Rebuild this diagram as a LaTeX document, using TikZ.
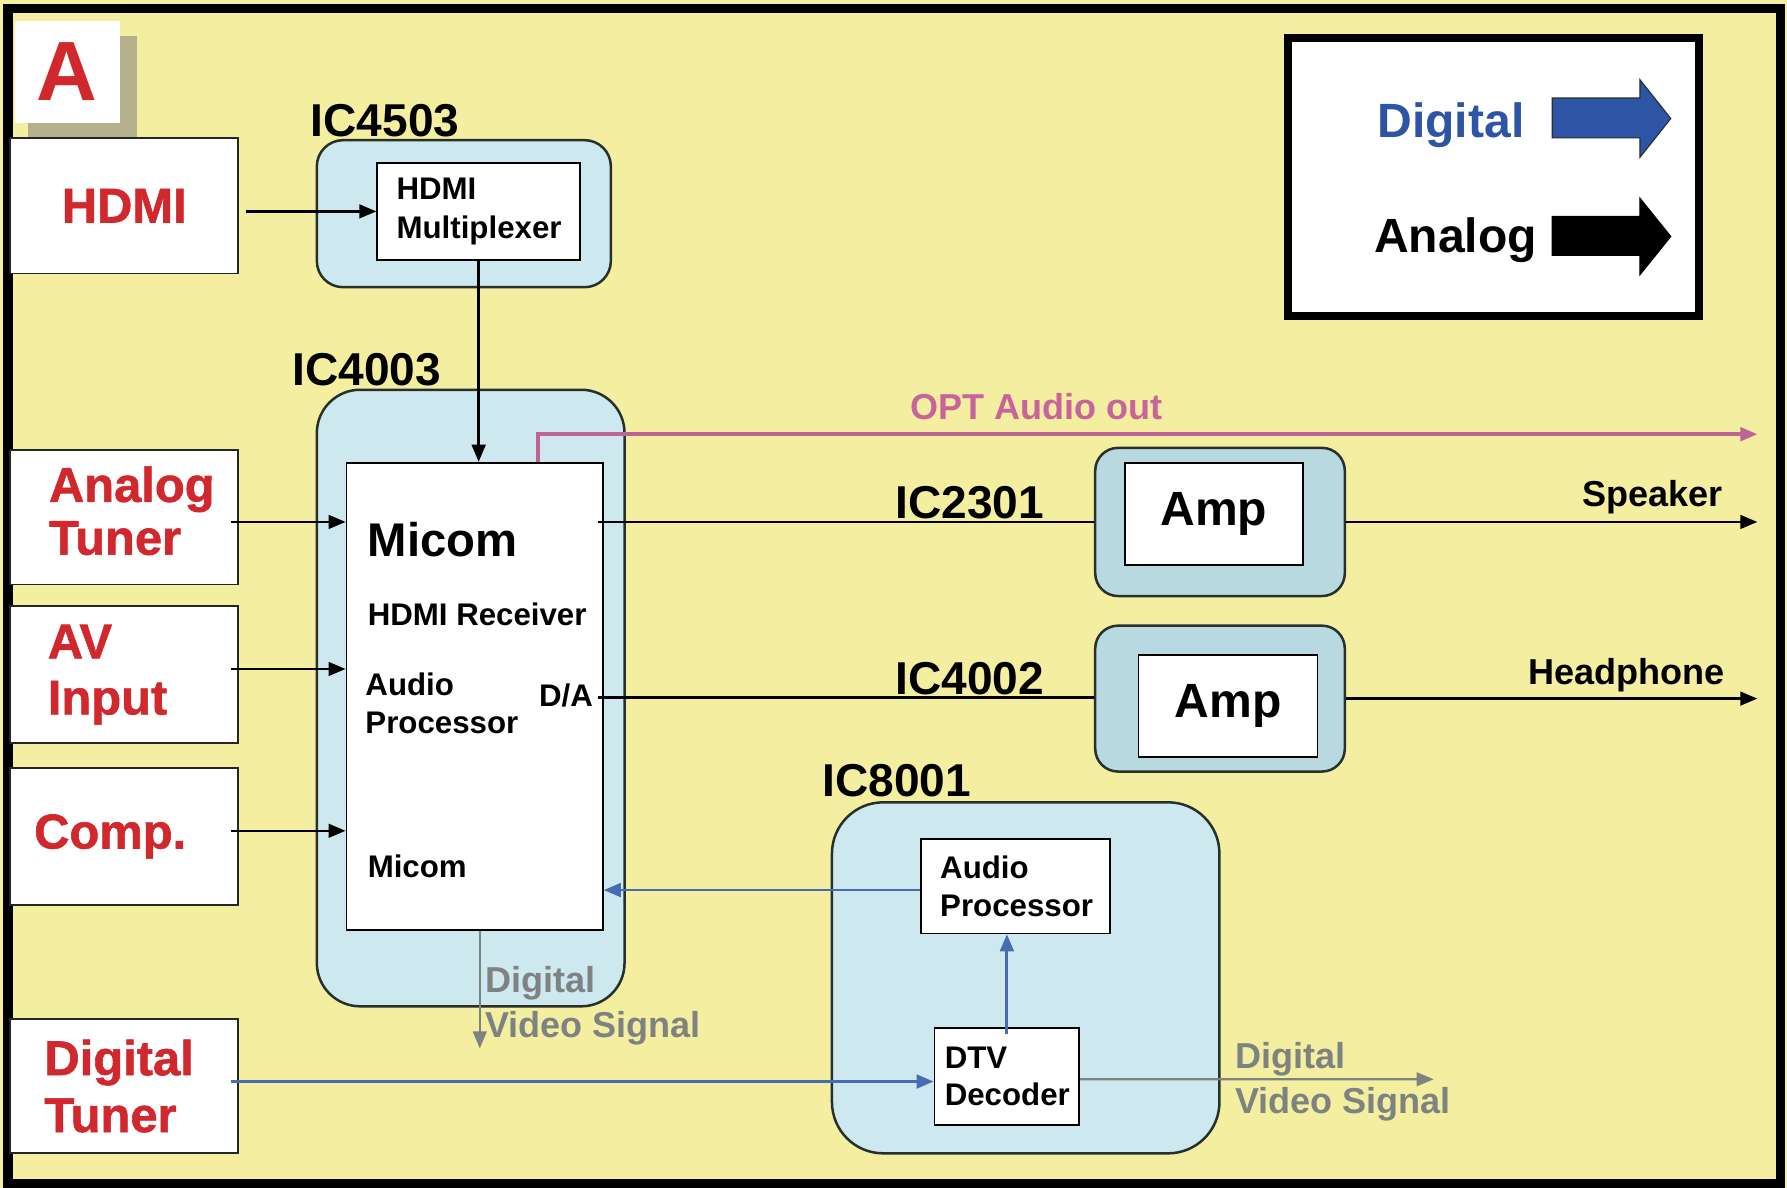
\documentclass[tikz,border=0pt]{standalone}
\usepackage{fontspec}
\setmainfont{Liberation Sans}
\newfontfamily\heavyfont{Liberation Sans}[BoldFeatures={FakeBold=1.2}]
\usetikzlibrary{arrows.meta}
\definecolor{bgyel}{RGB}{244,239,160}
\definecolor{icblue}{RGB}{206,232,240}
\definecolor{ampblue}{RGB}{185,217,224}
\definecolor{srcred}{RGB}{208,40,45}
\definecolor{digblue}{RGB}{72,108,178}
\definecolor{legblue}{RGB}{46,84,166}
\definecolor{optpink}{RGB}{200,100,155}
\definecolor{optline}{RGB}{190,100,150}
\definecolor{sigray}{RGB}{126,130,128}
\definecolor{shadowgray}{RGB}{180,176,140}
\definecolor{edgedark}{RGB}{40,48,44}
\begin{document}
\begin{tikzpicture}[x=0.1mm,y=-0.1mm,
  icbox/.style={draw=edgedark, line width=0.22mm, fill=icblue, inner sep=0pt},
  ampbox/.style={draw=edgedark, line width=0.22mm, fill=ampblue, rounded corners=2mm, minimum width=21.9mm, inner sep=0pt},
  wbox/.style={draw=black, line width=0.15mm, fill=white, inner ysep=0pt},
  srcbox/.style={draw=black!85, line width=0.15mm, fill=white, minimum width=20mm, text=srcred, align=left, font=\heavyfont\bfseries\fontsize{12.2}{13.2}\selectfont, inner ysep=0pt},
  iclabel/.style={anchor=base west, inner sep=0pt, font=\bfseries\fontsize{11.5}{14}\selectfont},
  smalltxt/.style={font=\bfseries\fontsize{7.8}{9.4}\selectfont},
  midtxt/.style={font=\bfseries\fontsize{9}{11}\selectfont},
  bigtxt/.style={font=\bfseries\fontsize{12}{14}\selectfont},
  graytxt/.style={text=sigray, font=\bfseries\fontsize{9}{11.2}\selectfont, align=left, inner sep=0pt, anchor=north west},
  ln/.style={line width=0.22mm, draw=black},
  arr/.style={line width=0.22mm, draw=black, -{Triangle[length=1.5mm,width=1.2mm]}},
  arrblue/.style={line width=0.25mm, draw=digblue, -{Triangle[length=1.5mm,width=1.2mm]}},
  arrgray/.style={line width=0.2mm, draw=sigray, -{Triangle[length=1.5mm,width=1.2mm]}},
  optarr/.style={line width=0.3mm, draw=optline, -{Triangle[length=1.5mm,width=1.2mm]}}
]
\useasboundingbox (0,0) rectangle (1568,1042);
\fill[bgyel] (0,0) rectangle (1568,1042);
\draw[line width=0.8mm] (7,7.5) rectangle (1562,1038.5);

% A badge
\fill[shadowgray] (25,32) rectangle (120,120);
\node[fill=white, minimum width=9.2mm, minimum height=9mm, inner sep=0pt, text=srcred,
      font=\bfseries\fontsize{21}{21}\selectfont] (abox) at (59,63) {A};

% source boxes
\node[srcbox, minimum height=11.9mm, align=center] (hdmi) at (109,180.5) {HDMI};
\node[srcbox, minimum height=11.8mm, text width=13.2mm, inner xsep=3.4mm] (atuner) at (109,454) {Analog\\Tuner\rule[-1.2mm]{0pt}{1.2mm}};
\node[srcbox, minimum height=12mm, text width=13.4mm, inner xsep=3.3mm, font=\heavyfont\bfseries\fontsize{12.2}{14}\selectfont] (avin) at (109,592) {AV\\Input};
\node[srcbox, minimum height=12mm, text width=15.8mm, inner xsep=2.1mm] (comp) at (109,734) {Comp.};
\node[srcbox, minimum height=11.8mm, text width=14mm, inner xsep=3mm, font=\heavyfont\bfseries\fontsize{12.2}{14.2}\selectfont] (dtuner) at (109,953) {Digital\\Tuner};

% IC containers
\node[icbox, rounded corners=2.3mm, minimum width=25.8mm, minimum height=12.9mm] (ic4503) at (407,187.5) {};
\node[icbox, rounded corners=3.8mm, minimum width=27mm, minimum height=54.1mm] (ic4003) at (413,612.5) {};
\node[icbox, rounded corners=4.5mm, minimum width=34mm, minimum height=30.8mm] (ic8001) at (900,858) {};
\node[ampbox, minimum height=13mm] (amp1) at (1070.5,458) {};
\node[ampbox, minimum height=12.8mm] (amp2) at (1070.5,613) {};

% IC labels
\node[iclabel] (l4503) at (272,120) {IC4503};
\node[iclabel] (l4003) at (256,338) {IC4003};
\node[iclabel] (l2301) at (785,455) {IC2301};
\node[iclabel] (l4002) at (785,609) {IC4002};
\node[iclabel] (l8001) at (721,699) {IC8001};

% inner blocks
\node[wbox, minimum width=17.8mm, minimum height=8.5mm, text width=14.4mm, inner xsep=1.7mm, align=left,
      font=\bfseries\fontsize{7.8}{9.7}\selectfont] (mux) at (420,185.5) {HDMI\\Multiplexer};
\node[wbox, minimum width=22.5mm, minimum height=41mm, inner sep=0pt] (micom) at (416.5,611) {};
\node[wbox, bigtxt, minimum width=15.6mm, minimum height=9mm, inner xsep=0pt] (amp1in) at (1065,451) {Amp};
\node[wbox, bigtxt, minimum width=15.7mm, minimum height=8.9mm, inner xsep=0pt] (amp2in) at (1077.5,619.5) {Amp};
\node[wbox, smalltxt, minimum width=16.6mm, minimum height=8.3mm, text width=13.2mm, inner xsep=1.7mm, align=left] (ap) at (891,777.5) {Audio\\Processor};
\node[wbox, smalltxt, minimum width=12.7mm, minimum height=8.5mm, text width=10.9mm, inner xsep=0.9mm, align=left] (dtv) at (883.5,944.5) {DTV\\Decoder};

% Micom texts
\node[anchor=base west, inner sep=0pt, font=\bfseries\fontsize{11.8}{14}\selectfont] (tmicom) at (322,488) {Micom};
\node[anchor=base west, inner sep=0pt, smalltxt] (thdmirx) at (322,549) {HDMI Receiver};
\node[anchor=north west, inner sep=0pt, smalltxt, align=left] (taudio) at (320,590) {Audio\\Processor};
\node[anchor=base east, inner sep=0pt, smalltxt] (tda) at (521,620) {D/A};
\node[anchor=base west, inner sep=0pt, smalltxt] (tmicom2) at (322,770) {Micom};

% endpoints
\coordinate (spk) at (1542,458);
\coordinate (hp) at (1542,613);
\coordinate (optend) at (1542,381);
\coordinate (dvs1) at (421,920);
\coordinate (dvs2) at (1258,947);

% connectors
\draw[arr] ([xshift=0.6mm]hdmi.east |- mux.west) -- (mux.west);
\draw[arr] (mux.south) -- (mux.south |- micom.north);
\draw[arr] ([xshift=-0.7mm,yshift=-0.4mm]atuner.east) -- ([yshift=-0.4mm]atuner.east -| micom.west);
\draw[arr] ([xshift=-0.7mm,yshift=0.5mm]avin.east) -- ([yshift=0.5mm]avin.east -| micom.west);
\draw[arr] ([xshift=-0.7mm,yshift=0.5mm]comp.east) -- ([yshift=0.5mm]comp.east -| micom.west);
\draw[arrblue] ([xshift=-0.7mm,yshift=0.4mm]dtuner.east) -- ([yshift=0.4mm]dtuner.east -| dtv.west);
\draw[ln] ([xshift=-0.5mm]micom.east |- amp1.west) -- (amp1.west);
\draw[arr] (amp1.east) -- (spk);
\draw[ln] ([xshift=-0.5mm,yshift=0.1mm]micom.east |- amp2.west) -- ([yshift=0.1mm]amp2.west);
\draw[arr] (amp2.east) -- (hp);
\draw[optarr] ([xshift=5.55mm]micom.north) |- (optend);
\draw[arrblue] ([yshift=-0.35mm]ap.west) -- ([yshift=-0.35mm]ap.west -| micom.east);
\draw[arrblue] ([yshift=-0.6mm]dtv.north) -- (dtv.north |- ap.south);
\draw[arrgray] ([yshift=-0.25mm]dtv.east) -- (dvs2);
\draw[arrgray] (micom.south -| dvs1) -- (dvs1);

% signal texts
\node[anchor=base west, inner sep=0pt, text=optpink, midtxt] (topt) at (798,368) {OPT Audio out};
\node[anchor=base east, inner sep=0pt, midtxt] (tspk) at (1512,444) {Speaker};
\node[anchor=base east, inner sep=0pt, midtxt] (thp) at (1514,601) {Headphone};
\node[graytxt] (tdvs1) at (425,847) {Digital\\Video Signal};
\node[graytxt] (tdvs2) at (1083,914) {Digital\\Video Signal};

% legend
\node[draw=black, line width=0.7mm, fill=white, minimum width=36.1mm, minimum height=24.4mm, inner sep=0pt] (legend) at (1310.5,155) {};
\node[anchor=base west, inner sep=0pt, text=legblue, bigtxt] (ldig) at (1208,121) {Digital};
\node[anchor=base west, inner sep=0pt, bigtxt] (lana) at (1205,222) {Analog};
\filldraw[fill=legblue, draw=edgedark, line width=0.1mm]
  (1362,86) -- (1439,86) -- (1439,70) -- (1466,104) -- (1439,138) -- (1439,121) -- (1362,121) -- cycle;
\filldraw[fill=black, draw=black, line width=0.1mm]
  (1362,190) -- (1439,190) -- (1439,174) -- (1466,207.5) -- (1439,241) -- (1439,224) -- (1362,224) -- cycle;
\end{tikzpicture}
\end{document}
